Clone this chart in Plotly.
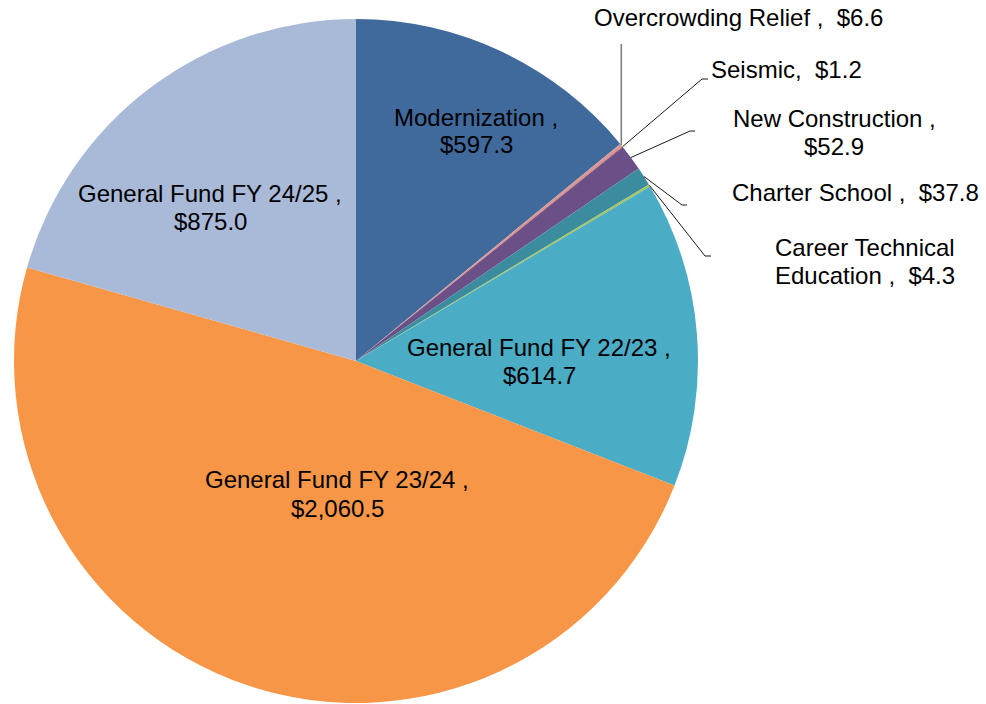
import numpy as np
import plotly.graph_objects as go

# data
categories = [
    "Modernization",
    "Overcrowding Relief",
    "Seismic",
    "New Construction",
    "Charter School",
    "Career Technical Education",
    "General Fund FY 22/23",
    "General Fund FY 23/24",
    "General Fund FY 24/25",
]
values = [597.3, 6.6, 1.2, 52.9, 37.8, 4.3, 614.7, 2060.5, 875.0]
colors = [
    "#40699C", "#D99795", "#C0504D", "#6B5087", "#3C8CA0",
    "#A5C45A", "#4BACC6", "#F79646", "#A9B9D8",
]

W, H = 986, 704
CX, CY, R = 356, 361, 342
FONT = dict(family="Liberation Sans, Arial, sans-serif", size=24, color="#000000")


def px(x):
    return x / W


def py(y):
    return 1 - y / H


def money(v):
    return f"${v:,.1f}"


# label lines (text) and their centre positions (pixels)
label_lines = {
    "Modernization": ["Modernization ,", money(values[0])],
    "Overcrowding Relief": ["Overcrowding Relief ,\u00a0 " + money(values[1])],
    "Seismic": ["Seismic,\u00a0 " + money(values[2])],
    "New Construction": ["New Construction ,", money(values[3])],
    "Charter School": ["Charter School ,\u00a0 " + money(values[4])],
    "Career Technical Education": ["Career Technical", "Education ,\u00a0 " + money(values[5])],
    "General Fund FY 22/23": ["General Fund FY 22/23 ,", money(values[6])],
    "General Fund FY 23/24": ["General Fund FY 23/24 ,", money(values[7])],
    "General Fund FY 24/25": ["General Fund FY 24/25 ,", money(values[8])],
}
label_pos = {
    "Modernization": (476, 117),
    "Overcrowding Relief": (738, 18),
    "Seismic": (786, 70),
    "New Construction": (834, 118),
    "Charter School": (855, 192),
    "Career Technical Education": (865, 247),
    "General Fund FY 22/23": (539, 347),
    "General Fund FY 23/24": (337, 480),
    "General Fund FY 24/25": (210, 193),
}
LINE_GAP = 28

# leader line elbows for the small outside slices (pixels)
leader_elbow = {
    "Overcrowding Relief": [(None, 44)],
    "Seismic": [(702, 79), (708, 79)],
    "New Construction": [(690, 131), (695, 131)],
    "Charter School": [(682, 205), (687, 205)],
    "Career Technical Education": [(705, 256), (711, 256)],
}

fig = go.Figure(
    go.Pie(
        labels=categories,
        values=values,
        sort=False,
        direction="clockwise",
        rotation=0,
        marker=dict(colors=colors, line=dict(width=0)),
        textinfo="none",
        hoverinfo="label+value",
        showlegend=False,
        domain=dict(x=[px(CX - R), px(CX + R)], y=[py(CY + R), py(CY - R)]),
    )
)

annotations = []
for name, lines in label_lines.items():
    x0, y0 = label_pos[name]
    for i, t in enumerate(lines):
        annotations.append(dict(
            x=px(x0), y=py(y0 + i * LINE_GAP), xref="paper", yref="paper",
            text=t, showarrow=False, xanchor="center", yanchor="middle",
            font=FONT,
        ))

# leader lines start at the slice edge at its mid angle
total = sum(values)
cum = np.cumsum([0] + values)
shapes = []
for name, elbows in leader_elbow.items():
    k = categories.index(name)
    mid = (cum[k] + cum[k + 1]) / 2 / total * 2 * np.pi
    sx = CX + R * np.sin(mid)
    sy = CY - R * np.cos(mid)
    pts = [(sx, sy)] + [(sx if ex is None else ex, ey) for ex, ey in elbows]
    grey = name == "Overcrowding Relief"
    for (ax, ay), (bx, by) in zip(pts[:-1], pts[1:]):
        shapes.append(dict(
            type="line", xref="paper", yref="paper",
            x0=px(ax), y0=py(ay), x1=px(bx), y1=py(by),
            line=dict(color="#808080" if grey else "#1a1a1a", width=1.6 if grey else 1),
        ))

fig.update_layout(
    width=W,
    height=H,
    margin=dict(l=0, r=0, t=0, b=0),
    paper_bgcolor="#ffffff",
    plot_bgcolor="#ffffff",
    annotations=annotations,
    shapes=shapes,
)

# drop the browser's default body margin so the figure fills the window
fig.write_html(
    "out.html",
    config={"displayModeBar": False},
    post_script="document.body.style.margin = '0';",
)
